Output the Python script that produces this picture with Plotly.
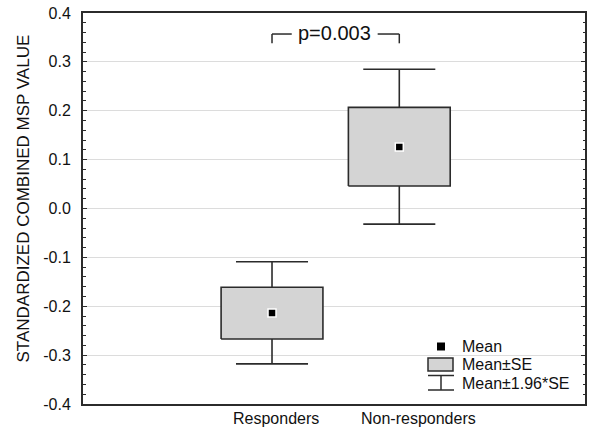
import plotly.graph_objects as go

categories = ["Responders", "Non-responders"]
cat_pos = [1, 2]
means = [-0.214, 0.126]
se_lo = [-0.267, 0.046]
se_hi = [-0.161, 0.207]
ci_lo = [-0.318, -0.032]
ci_hi = [-0.109, 0.285]
y_ticks = [-0.4, -0.3, -0.2, -0.1, 0.0, 0.1, 0.2, 0.3, 0.4]
y_ticktext = ["-0.4", "-0.3", "-0.2", "-0.1", "0.0", "0.1", "0.2", "0.3", "0.4"]
p_text = "p=0.003"

EDGE = "#2b2b2b"
FILL = "#d4d4d4"
TXT = "#111111"
FONT = "Liberation Sans, Arial, sans-serif"
BOX_HW = 0.40
CAP_HW = 0.283

fig = go.Figure()

for i, x in enumerate(cat_pos):
    # whiskers (vertical segments + caps)
    fig.add_trace(go.Scatter(
        x=[x, x, None, x, x, None, x - CAP_HW, x + CAP_HW, None, x - CAP_HW, x + CAP_HW],
        y=[ci_hi[i], se_hi[i], None, se_lo[i], ci_lo[i], None, ci_hi[i], ci_hi[i], None, ci_lo[i], ci_lo[i]],
        mode="lines", line=dict(color=EDGE, width=1.6), showlegend=False, hoverinfo="skip"))
    # SE box
    fig.add_trace(go.Scatter(
        x=[x - BOX_HW, x + BOX_HW, x + BOX_HW, x - BOX_HW, x - BOX_HW],
        y=[se_lo[i], se_lo[i], se_hi[i], se_hi[i], se_lo[i]],
        mode="lines", fill="toself", fillcolor=FILL,
        line=dict(color=EDGE, width=1.6), showlegend=False, hoverinfo="skip"))

# means
fig.add_trace(go.Scatter(
    x=cat_pos, y=means, mode="markers",
    marker=dict(symbol="square", size=8, color="black", line=dict(color="white", width=1.5)),
    showlegend=False))

shapes = []
annotations = []

# p-value bracket
yb_top, yb_bot = 0.357, 0.338
shapes += [
    dict(type="line", xref="x", yref="y", x0=cat_pos[0], x1=cat_pos[0], y0=yb_top, y1=yb_bot, line=dict(color=EDGE, width=1.5)),
    dict(type="line", xref="x", yref="y", x0=cat_pos[0], x1=cat_pos[0] + 0.155, y0=yb_top, y1=yb_top, line=dict(color=EDGE, width=1.5)),
    dict(type="line", xref="x", yref="y", x0=cat_pos[1], x1=cat_pos[1], y0=yb_top, y1=yb_bot, line=dict(color=EDGE, width=1.5)),
    dict(type="line", xref="x", yref="y", x0=cat_pos[1] - 0.17, x1=cat_pos[1], y0=yb_top, y1=yb_top, line=dict(color=EDGE, width=1.5)),
]
annotations.append(dict(x=(cat_pos[0] + cat_pos[1]) / 2, y=yb_top, xref="x", yref="y",
                        text=p_text, showarrow=False, xshift=-1, yshift=1,
                        font=dict(family=FONT, size=20, color=TXT)))

# category labels
label_shift = [4, 19]
for i, c in enumerate(categories):
    annotations.append(dict(x=cat_pos[i], y=-0.038, xref="x", yref="paper", text=c,
                            showarrow=False, xshift=label_shift[i], yanchor="middle",
                            font=dict(family=FONT, size=16, color=TXT)))

# y-axis title
annotations.append(dict(x=-0.1195, y=0.5256, xref="paper", yref="paper",
                        text="STANDARDIZED COMBINED MSP VALUE", textangle=-90,
                        showarrow=False, xanchor="center", yanchor="middle",
                        font=dict(family=FONT, size=17, color=TXT)))

# custom legend (paper coords)
def px_x(p):
    return (p - 83) / 502

def px_y(p):
    return (404 - p) / 391

shapes.append(dict(type="rect", xref="paper", yref="paper",
                   x0=px_x(437), x1=px_x(445), y0=px_y(350.5), y1=px_y(342.5),
                   fillcolor="black", line=dict(width=0)))
shapes.append(dict(type="rect", xref="paper", yref="paper",
                   x0=px_x(428), x1=px_x(453), y0=px_y(371), y1=px_y(358),
                   fillcolor=FILL, line=dict(color=EDGE, width=1.5)))
for y0p, y1p in [(375.5, 375.5), (390, 390)]:
    shapes.append(dict(type="line", xref="paper", yref="paper",
                       x0=px_x(428), x1=px_x(454), y0=px_y(y0p), y1=px_y(y1p),
                       line=dict(color=EDGE, width=1.5)))
shapes.append(dict(type="line", xref="paper", yref="paper",
                   x0=px_x(441), x1=px_x(441), y0=px_y(375.5), y1=px_y(390),
                   line=dict(color=EDGE, width=1.5)))
legend_items = ["Mean", "Mean±SE", "Mean±1.96*SE"]
legend_y = [346, 364, 383]
for t, yy in zip(legend_items, legend_y):
    annotations.append(dict(x=px_x(460), y=px_y(yy), xref="paper", yref="paper", text=t,
                            showarrow=False, xanchor="left", yanchor="middle",
                            font=dict(family=FONT, size=16, color=TXT)))

fig.update_layout(
    width=590, height=431,
    margin=dict(l=83, r=5, t=13, b=27, autoexpand=False),
    paper_bgcolor="white", plot_bgcolor="white",
    font=dict(family=FONT, color=TXT),
    shapes=shapes, annotations=annotations,
    showlegend=False,
    xaxis=dict(range=[-0.485, 3.459], showgrid=False, zeroline=False,
               showticklabels=False, ticks="", automargin=False,
               showline=True, linecolor=EDGE, linewidth=2, mirror=True),
    yaxis=dict(range=[-0.4, 0.4], tickvals=y_ticks, ticktext=y_ticktext,
               showgrid=True, gridcolor="#dcdcdc", gridwidth=1, zeroline=False,
               ticks="inside", ticklen=4, tickwidth=1.3, tickcolor=EDGE,
               showline=True, linecolor=EDGE, linewidth=2, mirror="ticks",
               ticklabelstandoff=7, automargin=False,
               tickfont=dict(family=FONT, size=16, color=TXT),
               minor=dict(dtick=0.02, ticks="inside", ticklen=2.5, tickcolor=EDGE, tickwidth=1.2, showgrid=False)),
)

fig.write_html("out.html", config={"displayModeBar": False},
               post_script="document.body.style.margin='0';document.body.style.padding='0';document.body.style.overflow='hidden';")
